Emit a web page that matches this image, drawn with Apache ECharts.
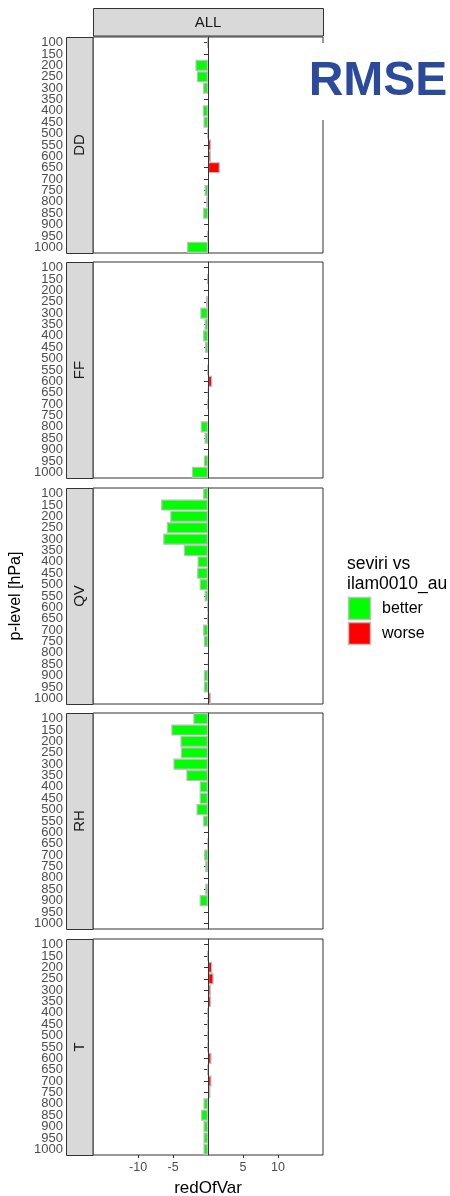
<!DOCTYPE html>
<html>
<head>
<meta charset="utf-8">
<script src="https://cdn.jsdelivr.net/npm/echarts@6.0.0/dist/echarts.min.js"></script>
<style>
html,body{margin:0;padding:0;background:#fff;}
#chart{width:450px;height:1196px;}
</style>
</head>
<body>
<div id="chart"></div>
<script>
// ---- data ----
var levels = ['100','150','200','250','300','350','400','450','500','550','600','650','700','750','800','850','900','950','1000'];
var panels = ['DD','FF','QV','RH','T'];
var xTicks = [-10, -5, 5, 10];
var DD = [-0.1, null, -1.8, -1.6, -0.7, null, -0.75, -0.65, -0.1, 0.45, 0.4, 1.7, null, -0.5, -0.25, -0.7, null, -0.1, -3.0];
var FF = [null, -0.15, null, -0.3, -1.1, -0.5, -0.7, -0.45, null, -0.1, 0.6, 0.05, -0.1, null, -1.05, -0.5, null, -0.6, -2.3];
var QV = [-0.7, -6.7, -5.4, -5.9, -6.4, -3.45, -1.5, -1.55, -1.2, -0.5, -0.1, -0.1, -0.7, -0.6, null, 0.1, -0.6, -0.6, 0.4];
var RH = [-2.1, -5.25, -3.95, -3.9, -4.95, -3.1, -1.2, -1.2, -1.65, -0.7, null, -0.05, -0.55, -0.4, null, -0.4, -1.2, null, null];
var T  = [null, -0.1, 0.6, 0.8, 0.4, 0.45, -0.1, -0.1, -0.1, -0.1, 0.5, -0.1, 0.5, 0.35, -0.65, -1.0, -0.65, -0.65, -0.65];
var seriesData = [DD, FF, QV, RH, T];
var legendLabels = ['better', 'worse'];

// ---- layout ----
var FONT = 'Liberation Sans, Arial, sans-serif';
var GREEN = '#00ff00', RED = '#ff0000';
var panelTops = [37, 262, 488, 713, 939];
var panelH = 216;
var left = 93, right = 323;
var xMin = -16.45, xMax = 16.45;

var grids = [], xAxes = [], yAxes = [], series = [], graphics = [];
panels.forEach(function (name, i) {
  var last = i === panels.length - 1;
  grids.push({
    left: left, top: panelTops[i], width: right - left, height: panelH,
    show: true, borderColor: '#333', borderWidth: 1, backgroundColor: '#fff',
    containLabel: false, outerBoundsMode: 'none'
  });
  xAxes.push({
    type: 'value', gridIndex: i, min: xMin, max: xMax,
    axisLine: { show: false },
    splitLine: { show: false },
    axisTick: { show: last, length: 3, lineStyle: { color: '#333' }, customValues: xTicks },
    axisLabel: { show: last, customValues: xTicks, color: '#4d4d4d', fontSize: 12.5, fontFamily: FONT, margin: 6 }
  });
  yAxes.push({
    type: 'category', gridIndex: i, data: levels, inverse: true, offset: 27,
    axisLine: { show: true, lineStyle: { color: '#333', width: 1 } },
    axisTick: { show: true, alignWithLabel: true, length: 4, lineStyle: { color: '#333' } },
    axisLabel: { interval: 0, color: '#4d4d4d', fontSize: 13, fontFamily: FONT, margin: 3 },
    splitLine: { show: false }
  });
  series.push({
    type: 'bar', xAxisIndex: i, yAxisIndex: i,
    data: seriesData[i].map(function (v) { return v === null ? '-' : v; }),
    barWidth: '98%',
    itemStyle: {
      color: function (p) { return p.value < 0 ? GREEN : RED; },
      borderColor: '#bebebe', borderWidth: 1.2
    },
    animation: false,
    markLine: {
      silent: true, symbol: ['none', 'none'], animation: false,
      label: { show: false },
      lineStyle: { color: '#333', width: 1, type: 'solid' },
      data: [{ xAxis: 0 }]
    }
  });
  // left strip
  graphics.push({
    type: 'rect', z: 10,
    shape: { x: 66.5, y: panelTops[i] + 0.5, width: 26.5, height: panelH },
    style: { fill: '#d9d9d9', stroke: '#333', lineWidth: 1 }
  });
  graphics.push({
    type: 'text', z: 11, x: 80, y: panelTops[i] + panelH / 2, rotation: Math.PI / 2,
    style: { text: name, fill: '#1a1a1a', font: '15px ' + FONT, align: 'center', verticalAlign: 'middle' }
  });
});

// top strip
graphics.push({
  type: 'rect', z: 10,
  shape: { x: left + 0.5, y: 8.5, width: right - left, height: 27.5 },
  style: { fill: '#d9d9d9', stroke: '#333', lineWidth: 1 }
});
graphics.push({
  type: 'text', z: 11, x: (left + right) / 2, y: 22.5,
  style: { text: 'ALL', fill: '#1a1a1a', font: '15px ' + FONT, align: 'center', verticalAlign: 'middle' }
});
// axis titles
graphics.push({
  type: 'text', z: 11, x: 16, y: 596, rotation: Math.PI / 2,
  style: { text: 'p-level [hPa]', fill: '#000', font: '16px ' + FONT, align: 'center', verticalAlign: 'middle' }
});
graphics.push({
  type: 'text', z: 11, x: 208, y: 1188,
  style: { text: 'redOfVar', fill: '#000', font: '17px ' + FONT, align: 'center', verticalAlign: 'middle' }
});
// RMSE badge
graphics.push({
  type: 'rect', z: 20,
  shape: { x: 300, y: 43, width: 150, height: 77 },
  style: { fill: '#fff', stroke: null }
});
graphics.push({
  type: 'text', z: 21, x: 378, y: 82,
  style: { text: 'RMSE', fill: '#2b4a9b', font: 'bold 48px ' + FONT, align: 'center', verticalAlign: 'middle' }
});
// legend
graphics.push({
  type: 'text', z: 11, x: 347, y: 554,
  style: { text: 'seviri vs\nilam0010_au', fill: '#000', font: '17.5px ' + FONT, lineHeight: 20, align: 'left', verticalAlign: 'top' }
});
[GREEN, RED].forEach(function (c, k) {
  var y = 597 + k * 25;
  graphics.push({
    type: 'rect', z: 11,
    shape: { x: 348.5, y: y + 0.5, width: 22, height: 22 },
    style: { fill: c, stroke: '#bebebe', lineWidth: 1.5 }
  });
  graphics.push({
    type: 'text', z: 11, x: 382, y: y + 11.5,
    style: { text: legendLabels[k], fill: '#000', font: '16px ' + FONT, align: 'left', verticalAlign: 'middle' }
  });
});

var chart = echarts.init(document.getElementById('chart'), null, { renderer: 'canvas' });
chart.setOption({
  backgroundColor: '#fff',
  animation: false,
  grid: grids,
  xAxis: xAxes,
  yAxis: yAxes,
  series: series,
  graphic: graphics
});
</script>
</body>
</html>
